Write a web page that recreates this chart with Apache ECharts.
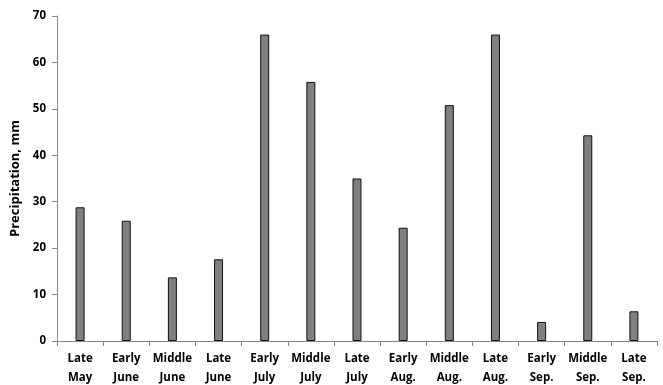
<!DOCTYPE html>
<html>
<head>
<meta charset="utf-8">
<script src="https://cdn.jsdelivr.net/npm/echarts@6/dist/echarts.min.js"></script>
<style>
  html, body { margin: 0; padding: 0; background: #fff; }
  #chart { width: 663px; height: 385px; }
</style>
</head>
<body>
<div id="chart"></div>
<script>
// Ten-day periods, May to September
const periods = [
  'Late\nMay', 'Early\nJune', 'Middle\nJune', 'Late\nJune',
  'Early\nJuly', 'Middle\nJuly', 'Late\nJuly',
  'Early\nAug.', 'Middle\nAug.', 'Late\nAug.',
  'Early\nSep.', 'Middle\nSep.', 'Late\nSep.'
];
// Precipitation per period, mm
const precipitation = [28.8, 25.9, 13.7, 17.6, 66.0, 55.8, 35.0, 24.4, 50.8, 66.0, 4.1, 44.3, 6.4];
const yMin = 0, yMax = 70, yStep = 10;

const font = '"Open Sans", "Liberation Sans", sans-serif';
const chart = echarts.init(document.getElementById('chart'), null, { renderer: 'canvas' });
chart.setOption({
  animation: false,
  grid: { left: 57, right: 6, top: 16, bottom: 44, containLabel: false, outerBoundsMode: 'none' },
  xAxis: {
    type: 'category',
    data: periods,
    boundaryGap: true,
    axisLine: { lineStyle: { color: '#868686', width: 1 } },
    axisTick: { show: true, length: 5, inside: false, lineStyle: { color: '#868686' } },
    axisLabel: {
      color: '#000', fontFamily: font, fontWeight: 'bold', fontSize: 11.5,
      lineHeight: 19, margin: 8, interval: 0
    }
  },
  yAxis: {
    type: 'value',
    min: yMin, max: yMax, interval: yStep,
    name: 'Precipitation, mm',
    nameLocation: 'middle',
    nameGap: 32,
    nameTextStyle: { color: '#000', fontFamily: font, fontWeight: 'bold', fontSize: 13 },
    splitLine: { show: false },
    axisLine: { show: true, lineStyle: { color: '#868686', width: 1 } },
    axisTick: { show: true, length: 5, lineStyle: { color: '#868686' } },
    axisLabel: { color: '#000', fontFamily: font, fontWeight: 'bold', fontSize: 11.5, margin: 11 }
  },
  series: [{
    type: 'bar',
    data: precipitation,
    barWidth: 9,
    itemStyle: { color: '#808080', borderColor: '#111', borderWidth: 1 }
  }]
});
</script>
</body>
</html>
